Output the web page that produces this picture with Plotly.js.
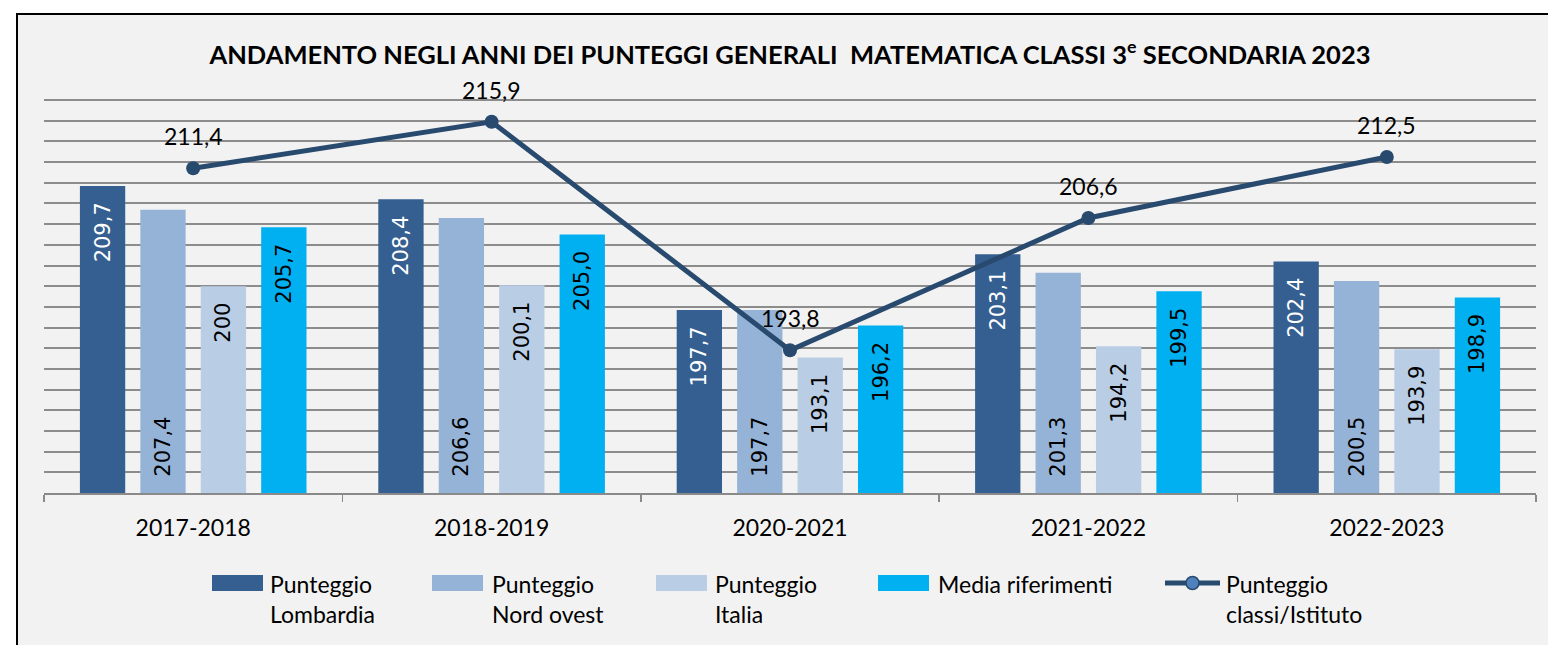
<!DOCTYPE html>
<html>
<head>
<meta charset="utf-8">
<script src="https://cdn.plot.ly/plotly-3.0.1.min.js"></script>
<style>html,body{margin:0;padding:0;background:#fff;}#chart{width:1548px;height:645px;}</style>
</head>
<body>
<div id="chart"></div>
<script>
// ---- data ----
const categories = ['2017-2018', '2018-2019', '2020-2021', '2021-2022', '2022-2023'];
const lombardia = [209.7, 208.4, 197.7, 203.1, 202.4];
const nordOvest = [207.4, 206.6, 197.7, 201.3, 200.5];
const italia = [200, 200.1, 193.1, 194.2, 193.9];
const mediaRiferimenti = [205.7, 205.0, 196.2, 199.5, 198.9];
const istituto = [211.4, 215.9, 193.8, 206.6, 212.5];
const seriesNames = ['Punteggio<br>Lombardia', 'Punteggio<br>Nord ovest', 'Punteggio<br>Italia', 'Media riferimenti', 'Punteggio<br>classi/Istituto'];
const titleText = 'ANDAMENTO NEGLI ANNI DEI PUNTEGGI GENERALI\u00a0 MATEMATICA CLASSI 3<sup>e</sup> SECONDARIA 2023';
const axisMin = 180, axisMax = 218, axisStep = 2;

// ---- layout helpers ----
const W = 1548, H = 645, ML = 44, MR = 12, MT = 98, MB = 152;
const PW = W - ML - MR, PH = H - MT - MB;
const px = x => (x - ML) / PW;
const py = y => (H - MB - y) / PH;

const colors = ['#355f91', '#95b3d7', '#b9cde5', '#00b0f0'];
const lineColor = '#294a6f';
const font = 'Lato, "Open Sans", sans-serif';
const barFont = '"DejaVu Sans", Verdana, sans-serif';
const NB = '\u00a0\u00a0';

const fmtAuto = v => String(v).replace('.', ',');
const fmt1 = v => v.toFixed(1).replace('.', ',');

function barTrace(name, vals, color, txtColor, anchor, fmt) {
  return {
    type: 'bar', name: name.replace('<br>', ' '), x: categories,
    base: axisMin, y: vals.map(v => v - axisMin),
    marker: {color: color},
    text: vals.map(v => anchor === 'start' ? NB + fmt(v) : fmt(v) + NB),
    textposition: 'inside', insidetextanchor: anchor, textangle: -90,
    constraintext: 'none',
    textfont: {family: barFont, size: 21, color: txtColor},
    hoverinfo: 'x+text', showlegend: false
  };
}

const traces = [
  barTrace(seriesNames[0], lombardia, colors[0], '#ffffff', 'end', fmt1),
  barTrace(seriesNames[1], nordOvest, colors[1], '#000000', 'start', fmt1),
  barTrace(seriesNames[2], italia, colors[2], '#000000', 'end', fmtAuto),
  barTrace(seriesNames[3], mediaRiferimenti, colors[3], '#000000', 'end', fmt1),
  {
    type: 'scatter', mode: 'lines+markers', name: 'Punteggio classi/Istituto',
    x: categories, y: istituto,
    line: {color: lineColor, width: 5},
    marker: {color: lineColor, size: 14},
    showlegend: false
  }
];

const annotations = istituto.map((v, i) => ({
  x: categories[i], y: v, xref: 'x', yref: 'y', text: fmt1(v), showarrow: false,
  yshift: 32, font: {family: font, size: 23, color: '#000'}
}));

const shapes = [{
  type: 'rect', xref: 'paper', yref: 'paper', layer: 'below',
  x0: px(17), x1: px(1570), y0: py(670), y1: py(14),
  fillcolor: '#f2f2f2', line: {color: '#000', width: 2}
}];

// manual legend
const legendItems = [
  {sx: 212, tx: 268, kind: 'bar', color: colors[0]},
  {sx: 432, tx: 490, kind: 'bar', color: colors[1]},
  {sx: 656, tx: 713, kind: 'bar', color: colors[2]},
  {sx: 878, tx: 936, kind: 'bar', color: colors[3]},
  {sx: 1165, tx: 1224, kind: 'line', color: lineColor}
];
const legY = 583;
legendItems.forEach((it, i) => {
  if (it.kind === 'bar') {
    shapes.push({type: 'rect', xref: 'paper', yref: 'paper', x0: px(it.sx), x1: px(it.sx + 51),
      y0: py(legY + 8), y1: py(legY - 8), fillcolor: it.color, line: {width: 0}});
  } else {
    shapes.push({type: 'line', xref: 'paper', yref: 'paper', x0: px(it.sx), x1: px(it.sx + 55),
      y0: py(legY), y1: py(legY), line: {color: it.color, width: 5}});
    shapes.push({type: 'circle', xref: 'paper', yref: 'paper', x0: px(it.sx + 21), x1: px(it.sx + 34),
      y0: py(legY + 6.5), y1: py(legY - 6.5), fillcolor: '#4f81bd', line: {color: it.color, width: 1.5}});
  }
  annotations.push({
    xref: 'paper', yref: 'paper', x: px(it.tx), y: py(legY - 15), xanchor: 'left', yanchor: 'top',
    align: 'left', showarrow: false, text: seriesNames[i],
    font: {family: font, size: 23, color: '#000'}
  });
});

const layout = {
  width: W, height: H,
  margin: {l: ML, r: MR, t: MT, b: MB, pad: 0},
  paper_bgcolor: '#ffffff', plot_bgcolor: 'rgba(0,0,0,0)',
  title: {text: titleText, xref: 'paper', x: 0.5, xanchor: 'center', yref: 'container', y: 1 - 55 / H, yanchor: 'middle',
    font: {family: font, size: 25.5, color: '#000', weight: 'bold'}},
  barmode: 'group', bargap: 0.19, bargroupgap: 0.25,
  showlegend: false,
  xaxis: {
    type: 'category', showgrid: false, showline: true, linecolor: '#8a8a8a', linewidth: 1.5,
    ticks: 'outside', tickson: 'boundaries', ticklen: 7, tickcolor: '#8a8a8a', tickwidth: 1.5,
    tickfont: {family: font, size: 23, color: '#000'}, ticklabelstandoff: 14, fixedrange: true
  },
  yaxis: {
    range: [axisMin, axisMax + 0.2], dtick: axisStep, tick0: axisMin, showticklabels: false, ticks: '',
    showgrid: true, gridcolor: '#8c8c8c', gridwidth: 2, zeroline: false, showline: false, fixedrange: true
  },
  annotations: annotations,
  shapes: shapes
};

Plotly.newPlot('chart', traces, layout, {displayModeBar: false, staticPlot: true});
</script>
</body>
</html>
